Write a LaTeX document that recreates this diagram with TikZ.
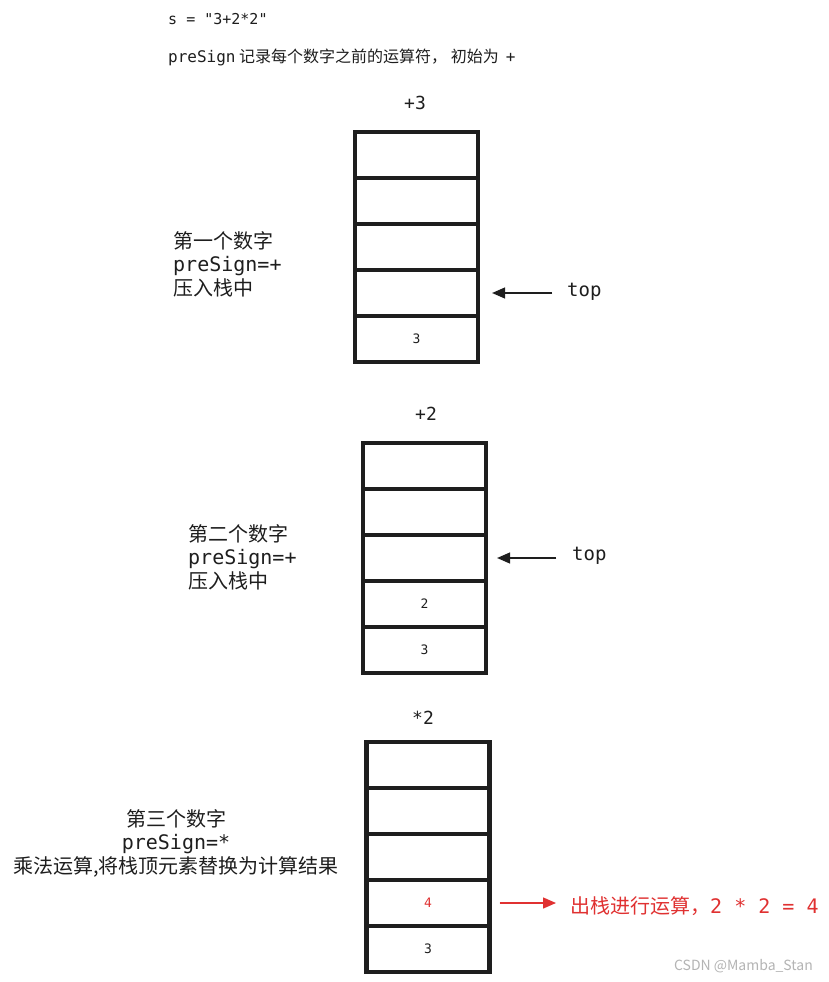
\documentclass[tikz,border=0pt]{standalone}
\usepackage{fontspec}
\setmainfont{Noto Sans CJK SC}
\setmonofont{DejaVu Sans Mono}
\usepackage{tikz}
\usetikzlibrary{arrows.meta,positioning}
\definecolor{sketchInk}{HTML}{1E1E1E}
\definecolor{sketchRed}{HTML}{E03131}
\definecolor{markGray}{HTML}{B4B4B4}

\begin{document}
\begin{tikzpicture}[x=1pt,y=-1pt,
  cell/.style={draw=sketchInk,fill=white,line width=4.2pt,minimum width=123pt,minimum height=46pt,inner sep=0pt},
  val/.style={font=\ttfamily\fontsize{13}{15}\selectfont,text=#1},
  head/.style={font=\ttfamily\fontsize{18}{20}\selectfont,text=sketchInk},
  note/.style={font=\fontsize{20}{23.5}\selectfont,text=sketchInk,inner sep=0pt,align=#1},
  ptr/.style={-{Triangle[length=13pt,width=11pt]},line width=1.4pt,draw=#1,fill=#1},
  toplab/.style={font=\ttfamily\fontsize{19}{21}\selectfont,text=sketchInk,anchor=west,inner sep=0pt}
]
  \fill[white] (0,0) rectangle (828,982);
  \useasboundingbox (0,0) rectangle (828,982);

  % header lines
  \node[anchor=west,inner sep=0pt,text=sketchInk,font=\ttfamily\fontsize{15}{17}\selectfont] (src) at (168,19) {s = "3+2*2"};
  \node[anchor=west,inner sep=0pt,text=sketchInk,font=\fontsize{16}{18}\selectfont] (intro) at (168,57)
    {{\ttfamily preSign} 记录每个数字之前的运算符， 初始为\ \ {\ttfamily +}};

  % three stacks, five cells each
  \foreach \s/\x/\y in {1/416.5/132,2/424.5/443,3/428/742} {
    \foreach \i in {1,...,5} {
      \node[cell] (s\s c\i) at (\x,\y+23+46*\i-46) {};
    }
  }

  \node[head] (h1) at (415,103) {+3};
  \node[head] (h2) at (426,414) {+2};
  \node[head] (h3) at (423,718) {*2};

  \node[val=sketchInk] (v15) at (s1c5) {3};
  \node[val=sketchInk] (v24) at (s2c4) {2};
  \node[val=sketchInk] (v25) at (s2c5) {3};
  \node[val=sketchRed] (v34) at (s3c4) {4};
  \node[val=sketchInk] (v35) at (s3c5) {3};

  % side notes
  \node[note=left,anchor=west] (n1) at (173,264)
    {第一个数字\\{\ttfamily preSign=+}\\压入栈中};
  \node[note=left,anchor=west] (n2) at (188,557)
    {第二个数字\\{\ttfamily preSign=+}\\压入栈中};
  \node[note=center] (n3) at (176,843)
    {第三个数字\\{\ttfamily preSign=*}\\乘法运算,将栈顶元素替换为计算结果};

  % top pointers
  \node[toplab] (t1) at (567,292) {top};
  \node[toplab] (t2) at (572,556) {top};
  \draw[ptr=sketchInk] ([xshift=-15pt]s1c4.east -| t1.west) -- ([xshift=12pt]s1c4.east);
  \draw[ptr=sketchInk] ([xshift=-16pt]s2c3.east -| t2.west) -- ([xshift=9pt]s2c3.east);

  % pop and compute
  \node[anchor=west,inner sep=0pt,text=sketchRed,font=\fontsize{20}{22}\selectfont] (pop) at (570,906)
    {出栈进行运算，{\ttfamily 2 * 2 = 4}};
  \draw[ptr=sketchRed] ([xshift=8pt]s3c4.east) -- ([xshift=-14pt]s3c4.east -| pop.west);

  \node[anchor=east,inner sep=0pt,text=markGray,font=\fontsize{14}{16}\selectfont] (mark) at (813,966) {CSDN @Mamba\_Stan};
\end{tikzpicture}
\end{document}
